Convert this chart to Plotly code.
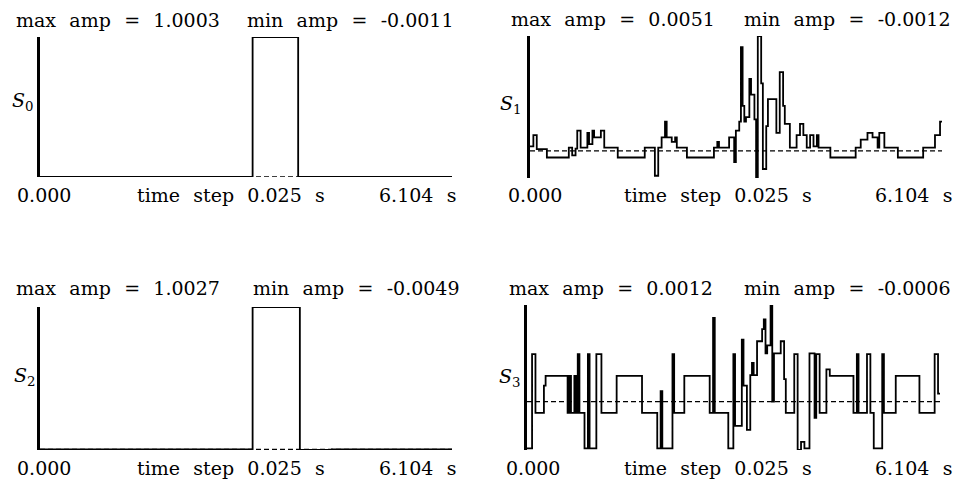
import numpy as np
import plotly.graph_objects as go

# ---- sampling -------------------------------------------------------------
DT = 0.025          # time step, s
T_END = 6.104       # last time shown, s
N = 245             # number of samples

# ---- signals, as (first sample index, amplitude) runs ---------------------
S0_start = [0, 126, 140, 141, 153, 154]
S0_amp = [0.0, 1.0, 1.0003, 1.0, -0.0011, 0.0]

S1_start = [0, 2, 4, 10, 23, 25, 27, 28, 30, 34, 35, 37, 38, 42, 44, 52, 68, 74,
            76, 78, 80, 81, 84, 86, 87, 93, 109, 111, 112, 118, 121, 122, 124,
            125, 126, 127, 128, 130, 131, 133, 134, 135, 137, 138, 140, 141, 146,
            148, 150, 151, 154, 158, 160, 162, 164, 166, 168, 170, 171, 178, 193,
            196, 200, 203, 206, 207, 210, 218, 233, 240, 243]
S1_amp = [0.0002, 0.0007, 0.00008, -0.00029, 0.00015, -0.0002, 0.0001, 0.0009,
          0.00015, 0.0008, 0.0003, 0.0009, 0.0006, 0.0009, 0.00015, -0.00029,
          0.00015, -0.0011, 0.00015, 0.0006, 0.0013, 0.0006, 0.0004, 0.0006,
          0.00015, -0.00029, 0.00015, 0.0004, 0.00015, 0.0006, -0.0005, 0.0009,
          0.0013, 0.0046, 0.0020, 0.0013, 0.0015, 0.0032, 0.0025, 0.0014,
          -0.0012, 0.0051, 0.0030, -0.0008, 0.0011, 0.0023, 0.0008, 0.0035,
          0.0020, 0.0012, 0.00015, 0.0007, 0.0012, 0.0007, 0.00015, 0.0007,
          0.0002, 0.0007, 0.00015, -0.00029, 0.00015, 0.0005, 0.0008, 0.0006,
          0.00015, 0.0008, 0.00015, -0.00029, 0.00015, 0.0007, 0.0013]

S2_start = [0, 126, 154, 173]
S2_amp = [0.0, 1.0027, -0.0049, -0.0003]

S3_start = [0, 3, 5, 10, 11, 24, 25, 26, 28, 29, 30, 31, 34, 36, 37, 41, 44, 53,
            68, 77, 79, 80, 86, 87, 93, 108, 110, 111, 119, 122, 123, 127, 128,
            130, 132, 133, 134, 136, 139, 140, 141, 142, 144, 145, 146, 150, 152,
            153, 158, 160, 162, 164, 167, 170, 171, 173, 177, 179, 193, 195, 196,
            201, 203, 205, 210, 211, 218, 232, 241, 243]
S3_amp = [-0.00058, 0.00059, -0.00014, 0.0002, 0.00032, -0.00014, 0.00032,
          -0.00014, 0.00032, -0.00014, 0.00059, -0.00014, -0.00058, 0.00059,
          -0.00058, 0.00059, -0.00014, 0.00032, -0.00014, -0.00058, 0.00013,
          -0.00058, 0.00059, -0.00014, 0.00032, -0.00014, 0.00104, -0.00014,
          -0.00058, 0.00059, -0.0003, 0.00077, 0.0002, -0.00035, 0.00033,
          0.00048, 0.00033, 0.00075, 0.0009, 0.00102, 0.0006, 0.0007, 0.0012,
          0.0, 0.0006, 0.00075, 0.00028, -0.00014, 0.00059, -0.0006, -0.0005,
          -0.00058, 0.0006, -0.0002, 0.00059, -0.00014, 0.0004, 0.00032,
          -0.00014, 0.00059, -0.00014, 0.00059, -0.00014, -0.00058, 0.00059,
          -0.00014, 0.00032, -0.00014, 0.00059, 0.0001]

# ---- text -----------------------------------------------------------------
S_LABELS = ["<i>S</i><sub>0</sub>", "<i>S</i><sub>1</sub>",
            "<i>S</i><sub>2</sub>", "<i>S</i><sub>3</sub>"]
TICK_START = "0.000"
TICK_MID = "time step 0.025 s"
TICK_END = "6.104 s"

W, H = 955, 483
FONT = "DejaVu Serif"
GAP = "\u2002\u2009"   # wide word spacing


def fx(px):
    return px / W


def fy(py):
    return 1 - py / H


def expand(starts, amps):
    lengths = np.diff(starts + [N])
    return np.repeat(np.array(amps, dtype=float), lengths)


def spaced(s):
    return s.replace(" ", GAP)


t = np.arange(N) * DT
signals = [expand(S0_start, S0_amp), expand(S1_start, S1_amp),
           expand(S2_start, S2_amp), expand(S3_start, S3_amp)]

# panel boxes in pixels: (left, right, top, bottom)
boxes = [(40, 452, 37, 177), (530, 942, 36, 178),
         (40, 452, 307, 450), (527, 940, 305, 450)]
# text placement per panel: title y, left x, right x, tick y, tick xs, S label (x, y)
text_pos = [
    dict(ty=20, tl=14, tr=456, ky=195, k0=15, k1=135, k2=458, sx=36, sy=101),
    dict(ty=19, tl=509, tr=953, ky=195, k0=506, k1=622, k2=954, sx=524, sy=104),
    dict(ty=288, tl=14, tr=462, ky=468, k0=15, k1=135, k2=458, sx=38, sy=376),
    dict(ty=288, tl=507, tr=953, ky=468, k0=504, k1=622, k2=954, sx=523, sy=377),
]

fig = go.Figure()
layout = dict(width=W, height=H, margin=dict(l=0, r=0, t=0, b=0),
              paper_bgcolor="white", plot_bgcolor="white", showlegend=False)
annotations = []

for k, (sig, box, tp) in enumerate(zip(signals, boxes, text_pos)):
    sfx = "" if k == 0 else str(k + 1)
    xa, ya = "x" + sfx, "y" + sfx
    left, right, top, bottom = box
    lo, hi = float(sig.min()), float(sig.max())

    layout["xaxis" + sfx] = dict(domain=[fx(left), fx(right)], range=[0, T_END],
                                 showline=False, showgrid=False, zeroline=False,
                                 showticklabels=False, ticks="", anchor=ya)
    layout["yaxis" + sfx] = dict(domain=[fy(bottom), fy(top)], range=[lo, hi],
                                 showline=True, linewidth=3, linecolor="black",
                                 showgrid=False, zeroline=False,
                                 showticklabels=False, ticks="", anchor=xa)

    # dashed zero reference
    fig.add_trace(go.Scatter(x=[0, T_END], y=[0, 0], mode="lines",
                             line=dict(color="black", width=1.3, dash="5px,3px"),
                             xaxis=xa, yaxis=ya, hoverinfo="skip"))
    # the step signal
    fig.add_trace(go.Scatter(x=np.append(t, T_END), y=np.append(sig, sig[-1]),
                             mode="lines", line=dict(color="black", width=1.8, shape="hv"),
                             xaxis=xa, yaxis=ya))

    font = dict(family=FONT, size=19, color="black")
    common = dict(xref="paper", yref="paper", showarrow=False, font=font, yanchor="middle")
    annotations += [
        dict(x=fx(tp["tl"]), y=fy(tp["ty"]), xanchor="left",
             text=spaced(f"max amp = {hi:.4f}"), **common),
        dict(x=fx(tp["tr"]), y=fy(tp["ty"]), xanchor="right",
             text=spaced(f"min amp = {lo:.4f}"), **common),
        dict(x=fx(tp["k0"]), y=fy(tp["ky"]), xanchor="left", text=TICK_START, **common),
        dict(x=fx(tp["k1"]), y=fy(tp["ky"]), xanchor="left", text=spaced(TICK_MID), **common),
        dict(x=fx(tp["k2"]), y=fy(tp["ky"]), xanchor="right", text=spaced(TICK_END), **common),
        dict(x=fx(tp["sx"]), y=fy(tp["sy"]), xanchor="right", text=S_LABELS[k], **common),
    ]

layout["annotations"] = annotations
fig.update_layout(**layout)
fig.write_html("out.html")
